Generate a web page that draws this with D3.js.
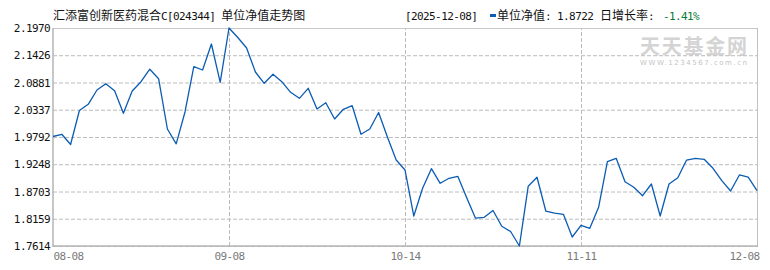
<!DOCTYPE html>
<html>
<head>
<meta charset="utf-8">
<script src="https://cdn.jsdelivr.net/npm/d3@7"></script>
<style>
body { margin: 0; background: #fff; }
</style>
</head>
<body>
<div id="chart"></div>
<script>
var fundTitle = '汇添富创新医药混合C[024344] 单位净值走势图'
var lastDate = '2025-12-08'

// unit NAV, one value per trading day
var navValues = [
  1.9802, 1.9846, 1.9642, 2.0322, 2.0445, 2.0731, 2.0857, 2.0715, 2.0266, 2.0711,
  2.0897, 2.1147, 2.0957, 1.9952, 1.9656, 2.0292, 2.1197, 2.1131, 2.1650, 2.0885,
  2.1970, 2.1780, 2.1570, 2.1091, 2.0865, 2.1045, 2.0897, 2.0685, 2.0565, 2.0765,
  2.0352, 2.0477, 2.0152, 2.0346, 2.0417, 1.9846, 1.9952, 2.0282, 1.9792, 1.9332,
  1.9133, 1.8213, 1.8767, 1.9159, 1.8867, 1.8967, 1.9007, 1.8583, 1.8173, 1.8187,
  1.8323, 1.8008, 1.7904, 1.7614, 1.8807, 1.8987, 1.8313, 1.8273, 1.8247, 1.7794,
  1.8028, 1.7968, 1.8387, 1.9298, 1.9366, 1.8899, 1.8787, 1.8619, 1.8853, 1.8213,
  1.8853, 1.8979, 1.9332, 1.9366, 1.9346, 1.9167, 1.8919, 1.8713, 1.9033, 1.8990,
  1.8722
]

var xTickIndex = [0, 20, 40, 60, 80]
var xTickLabels = ['08-08', '09-08', '10-14', '11-11', '12-08']

var yTickValues = [2.1970, 2.1426, 2.0881, 2.0337, 1.9792, 1.9248, 1.8703, 1.8159, 1.7614]
var yTickLabels = ['2.1970', '2.1426', '2.0881', '2.0337', '1.9792', '1.9248', '1.8703', '1.8159', '1.7614']

var W = 770, H = 270
var plotLeft = 53, plotRight = 757, boxRight = 758, plotTop = 28, plotBottom = 246
var mono = "'DejaVu Sans Mono', 'Liberation Mono', monospace"
var cjk = "'Noto Sans CJK SC', sans-serif"

var svg = d3.select('#chart').append('svg')
  .attr('width', W)
  .attr('height', H)

var x = d3.scaleLinear().domain([0, navValues.length - 1]).range([plotLeft, plotRight])
var y = d3.scaleLinear().domain([1.7614, 2.1970]).range([plotBottom, plotTop])

// text with halfwidth chars in a narrow mono face, like the original bitmap font
function mixedText(g, str, px, py, color) {
  var t = g.append('text').attr('x', px).attr('y', py).attr('fill', color)
  var runs = str.match(/[\x00-\x7f]+|[^\x00-\x7f]+/g)
  runs.forEach(function(r) {
    var ascii = /^[\x00-\x7f]+$/.test(r)
    t.append('tspan')
      .attr('font-family', ascii ? mono : cjk)
      .attr('font-size', ascii ? 11 : 12)
      .attr('letter-spacing', ascii ? -0.6 : 0)
      .style('white-space', 'pre')
      .text(r)
  })
  return t
}

// watermark
svg.append('text')
  .attr('x', 640).attr('y', 54)
  .attr('font-family', cjk).attr('font-size', 20).attr('font-weight', 'bold')
  .attr('fill', '#d4d4d4')
  .attr('textLength', 107).attr('lengthAdjust', 'spacing')
  .text('天天基金网')
svg.append('text')
  .attr('x', 640).attr('y', 65)
  .attr('font-family', "'DejaVu Sans', sans-serif").attr('font-size', 7)
  .attr('fill', '#c4c4c4')
  .attr('textLength', 107).attr('lengthAdjust', 'spacing')
  .text('WWW.1234567.com.cn')

// y axis + horizontal grid
var yAxis = svg.append('g')
  .attr('transform', 'translate(' + plotLeft + ',0)')
  .call(d3.axisLeft(y)
    .tickValues(yTickValues)
    .tickSize(-(boxRight - plotLeft))
    .tickPadding(3)
    .tickFormat(function(d, i) { return yTickLabels[i] }))
yAxis.select('.domain').remove()
yAxis.selectAll('line')
  .attr('stroke', '#bcbcbc')
  .attr('stroke-dasharray', '4,2')
yAxis.selectAll('text')
  .attr('font-family', mono)
  .attr('font-size', 11)
  .attr('letter-spacing', -0.6)
  .attr('fill', '#111')

// x axis + vertical grid
var xAxis = svg.append('g')
  .attr('transform', 'translate(0,' + plotBottom + ')')
  .call(d3.axisBottom(x)
    .tickValues(xTickIndex)
    .tickSize(-(plotBottom - plotTop))
    .tickPadding(6)
    .tickFormat(function(d, i) { return xTickLabels[i] }))
xAxis.select('.domain').remove()
xAxis.selectAll('line')
  .attr('stroke', '#bcbcbc')
  .attr('stroke-dasharray', '4,2')
  .attr('display', function(d, i) { return (i == 0 || i == xTickIndex.length - 1) ? 'none' : null })
xAxis.selectAll('text')
  .attr('font-family', mono)
  .attr('font-size', 11)
  .attr('letter-spacing', -0.6)
  .attr('fill', '#7a7a7a')
  .attr('text-anchor', function(d, i) {
    if (i == 0) return 'start'
    if (i == xTickIndex.length - 1) return 'end'
    return 'middle'
  })
  .attr('dx', function(d, i) { return i == xTickIndex.length - 1 ? 2 : 0 })

// frame
svg.append('line').attr('x1', plotLeft).attr('x2', boxRight).attr('y1', plotTop + 0.5).attr('y2', plotTop + 0.5)
  .attr('stroke', '#c8c8c8')
svg.append('line').attr('x1', boxRight - 0.5).attr('x2', boxRight - 0.5).attr('y1', plotTop).attr('y2', plotBottom)
  .attr('stroke', '#c0c0c0')
svg.append('line').attr('x1', plotLeft).attr('x2', plotLeft).attr('y1', plotTop).attr('y2', plotBottom + 1)
  .attr('stroke', '#b4b4b4').attr('stroke-width', 1.5)
svg.append('line').attr('x1', plotLeft).attr('x2', boxRight).attr('y1', plotBottom).attr('y2', plotBottom)
  .attr('stroke', '#b4b4b4').attr('stroke-width', 1.5)

// nav line
var line = d3.line()
  .x(function(d, i) { return x(i) })
  .y(function(d) { return y(d) })
svg.append('path')
  .datum(navValues)
  .attr('d', line)
  .attr('fill', 'none')
  .attr('stroke', '#0b5cb3')
  .attr('stroke-width', 1.3)
  .attr('stroke-linejoin', 'round')

// header
var header = svg.append('g')
mixedText(header, fundTitle, 53, 20, '#111')

var last = navValues[navValues.length - 1]
var prev = navValues[navValues.length - 2]
var change = (last / prev - 1) * 100

mixedText(header, '[' + lastDate + ']', 405, 20, '#111')
header.append('rect')
  .attr('x', 490).attr('y', 14).attr('width', 6).attr('height', 3)
  .attr('fill', '#0b5cb3')
mixedText(header, '单位净值: ' + last.toFixed(4), 497, 20, '#111')
mixedText(header, '日增长率: ', 600, 20, '#111')
mixedText(header, change.toFixed(2) + '%', 663, 20, '#0b7a35')
</script>
</body>
</html>
